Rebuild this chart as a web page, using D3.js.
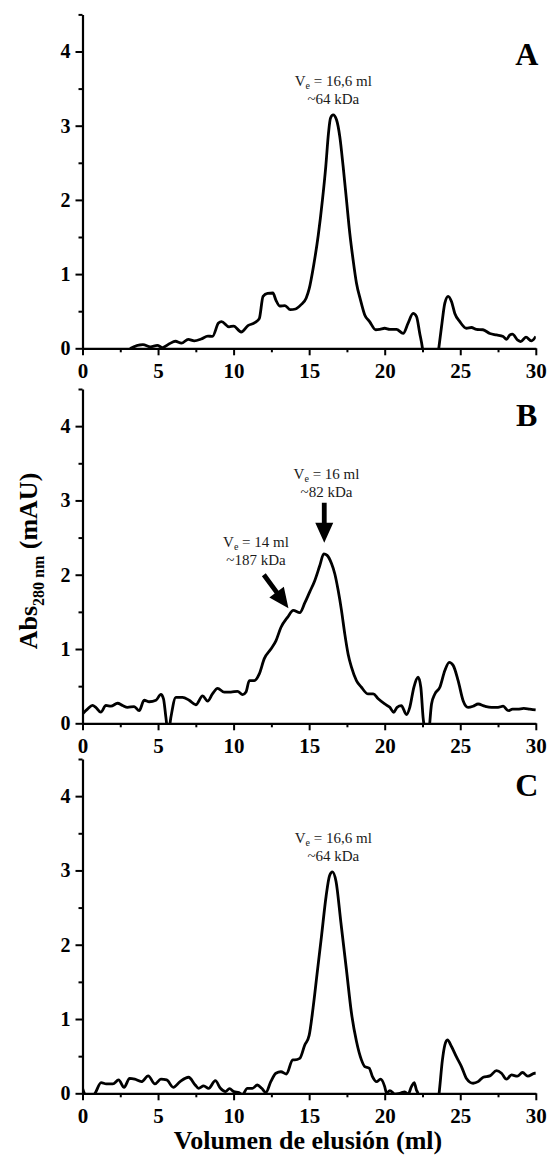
<!DOCTYPE html>
<html><head><meta charset="utf-8">
<script src="https://cdn.jsdelivr.net/npm/d3@7"></script>
<style>body{margin:0;background:#fff} svg{display:block}</style>
</head><body>
<script>
// ---------- data ----------
const xTicks = [0, 5, 10, 15, 20, 25, 30];
const xMinor = [2.5, 7.5, 12.5, 17.5, 22.5, 27.5];
const yTicks = [0, 1, 2, 3, 4];
const yMinor = [0.5, 1.5, 2.5, 3.5, 4.5];
const panelLetters = ["A", "B", "C"];
const xTitle = "Volumen de elusión (ml)";

// elution volume (ml), Abs280 (mAU)
const traceA = [[0,-0.08],[3.0,-0.05],[3.2,0.0],[4.0,0.05],[4.5,0.02],[4.95,0.04],[5.3,0.01],[5.75,0.06],[6.15,0.095],[6.55,0.07],[7.0,0.12],[7.4,0.10],[7.85,0.125],[8.3,0.165],[8.6,0.16],[9.0,0.34],[9.2,0.36],[9.7,0.29],[10.0,0.30],[10.5,0.22],[10.95,0.305],[11.4,0.345],[11.7,0.40],[11.95,0.70],[12.25,0.74],[12.6,0.745],[12.8,0.65],[13.05,0.57],[13.4,0.575],[13.75,0.52],[14.1,0.53],[14.45,0.585],[14.8,0.675],[15.0,0.80],[15.3,1.12],[15.6,1.52],[15.88,2.0],[16.1,2.45],[16.28,2.90],[16.41,3.10],[16.59,3.145],[16.81,3.08],[17.03,2.85],[17.25,2.45],[17.47,2.0],[17.69,1.55],[17.91,1.19],[18.13,0.88],[18.4,0.65],[18.68,0.45],[19.0,0.36],[19.41,0.25],[19.68,0.256],[20.0,0.27],[20.34,0.256],[20.78,0.256],[21.22,0.20],[21.55,0.34],[21.88,0.47],[22.1,0.43],[22.32,0.20],[22.5,0.0],[22.8,-0.6],[23.2,-0.6],[23.58,0.0],[23.76,0.29],[23.98,0.61],[24.2,0.70],[24.42,0.63],[24.64,0.47],[24.97,0.36],[25.41,0.27],[25.74,0.28],[26.07,0.256],[26.5,0.25],[26.96,0.20],[27.4,0.18],[27.84,0.16],[28.06,0.12],[28.28,0.18],[28.45,0.19],[28.8,0.11],[29.0,0.09],[29.35,0.15],[29.7,0.10],[30,0.16]];

const traceB = [[0,0.126],[0.33,0.19],[0.66,0.24],[0.88,0.215],[1.21,0.15],[1.55,0.24],[1.88,0.23],[2.32,0.27],[2.65,0.24],[2.98,0.215],[3.42,0.225],[3.75,0.17],[4.08,0.31],[4.42,0.29],[4.86,0.31],[5.19,0.39],[5.36,0.33],[5.52,0.08],[5.67,-0.15],[5.85,0.08],[6.18,0.35],[6.62,0.35],[7.06,0.31],[7.5,0.25],[7.95,0.37],[8.28,0.30],[8.6,0.395],[8.94,0.47],[9.38,0.42],[9.82,0.42],[10.26,0.43],[10.6,0.385],[10.82,0.42],[11.04,0.575],[11.37,0.575],[11.7,0.665],[12.03,0.87],[12.47,1.0],[12.8,1.11],[13.13,1.29],[13.58,1.43],[13.95,1.52],[14.38,1.49],[14.71,1.62],[15.04,1.77],[15.37,1.92],[15.7,2.12],[15.97,2.28],[16.19,2.26],[16.48,2.15],[16.7,2.01],[16.92,1.79],[17.14,1.52],[17.36,1.20],[17.58,0.93],[17.8,0.755],[18.13,0.575],[18.46,0.485],[18.9,0.395],[19.24,0.395],[19.57,0.33],[20.0,0.26],[20.34,0.215],[20.6,0.148],[20.82,0.215],[21.1,0.238],[21.44,0.117],[21.66,0.215],[21.93,0.485],[22.21,0.62],[22.39,0.485],[22.54,0.08],[22.65,-0.1],[22.8,-0.4],[22.94,-0.1],[23.1,0.26],[23.32,0.395],[23.65,0.485],[23.98,0.71],[24.27,0.82],[24.53,0.78],[24.86,0.575],[25.19,0.305],[25.52,0.215],[25.85,0.23],[26.18,0.26],[26.63,0.23],[27.07,0.215],[27.5,0.215],[27.84,0.23],[28.17,0.17],[28.46,0.19],[28.8,0.19],[29.2,0.2],[29.6,0.19],[30,0.18]];

const traceC = [[0,0.07],[0.12,0],[0.3,-0.05],[0.6,-0.05],[0.83,0],[1.23,0.144],[1.57,0.126],[2.01,0.126],[2.39,0.18],[2.75,0.08],[3.12,0.20],[3.46,0.19],[3.9,0.157],[4.35,0.234],[4.79,0.126],[5.19,0.19],[5.57,0.18],[6.01,0.08],[6.46,0.157],[7.02,0.216],[7.46,0.112],[7.68,0.067],[8.02,0.1],[8.35,0.067],[8.79,0.17],[9.13,0.067],[9.46,0.022],[9.73,0.063],[10.02,0.022],[10.35,0.01],[10.57,-0.02],[10.91,0.067],[11.25,0.067],[11.57,0.112],[11.86,0.067],[12.13,0.01],[12.46,0.157],[12.8,0.27],[13.13,0.29],[13.5,0.26],[13.91,0.45],[14.05,0.45],[14.38,0.47],[14.71,0.65],[15.0,0.78],[15.26,1.15],[15.52,1.6],[15.82,2.12],[16.12,2.65],[16.35,2.93],[16.54,2.98],[16.78,2.85],[17.1,2.3],[17.47,1.66],[17.8,1.08],[18.13,0.70],[18.46,0.45],[18.68,0.36],[18.97,0.34],[19.19,0.225],[19.46,0.157],[19.72,0.19],[20.0,0.09],[20.12,0],[20.34,0.036],[20.67,-0.01],[21.0,0.0],[21.33,0.02],[21.55,-0.01],[21.77,0.09],[21.95,0.144],[22.1,0.045],[22.2,0],[22.5,-0.4],[23.3,-0.4],[23.6,0],[23.82,0.45],[23.98,0.65],[24.15,0.72],[24.42,0.63],[24.75,0.49],[25.08,0.36],[25.41,0.20],[25.85,0.135],[26.18,0.157],[26.52,0.216],[26.96,0.234],[27.4,0.305],[27.73,0.27],[28.06,0.19],[28.39,0.247],[28.78,0.23],[29.12,0.28],[29.47,0.23],[29.93,0.27],[30,0.27]];

const traces = [traceA, traceB, traceC];

// annotation texts (V subscript e)
const annA = [{v:"V", sub:"e", rest:" = 16,6 ml"}, {rest:"~64 kDa"}];
const annB1 = [{v:"V", sub:"e", rest:" = 16 ml"}, {rest:"~82 kDa"}];
const annB2 = [{v:"V", sub:"e", rest:" = 14 ml"}, {rest:"~187 kDa"}];
const annC = [{v:"V", sub:"e", rest:" = 16,6 ml"}, {rest:"~64 kDa"}];

// ---------- layout ----------
const W = 548, H = 1158;
const serif = "'Liberation Serif','Times New Roman',serif";
const panels = [
  {top: 14.4, bottom: 348.3, letterY: 3.82},
  {top: 389.0, bottom: 723.3, letterY: 4.0},
  {top: 759.0, bottom: 1093.3, letterY: 4.0}
];

const svg = d3.select("body").append("svg").attr("width", W).attr("height", H)
  .style("font-family", serif);

const x = d3.scaleLinear().domain([0, 30]).range([82.5, 535.8]);

function drawAnn(g, y, cx, baseY, lines, lineGap) {
  lines.forEach((ln, i) => {
    const t = g.append("text").attr("x", x(cx)).attr("y", y(baseY) + i * lineGap)
      .attr("text-anchor", "middle").attr("font-size", 15).attr("fill", "#1a1a1a");
    if (ln.v) {
      t.append("tspan").text(ln.v);
      t.append("tspan").attr("font-size", 10).attr("dy", 3).text(ln.sub);
      t.append("tspan").attr("dy", -3).text(ln.rest);
    } else {
      t.text(ln.rest);
    }
  });
}

function arrow(g, p0, p1) {
  const dx = p1[0] - p0[0], dy = p1[1] - p0[1];
  const L = Math.hypot(dx, dy), ux = dx / L, uy = dy / L, nx = -uy, ny = ux;
  const hl = 20, hw = 9, sw = 2.4;
  const bx = p1[0] - ux * hl, by = p1[1] - uy * hl;
  const pts = [
    [p0[0] + nx * sw, p0[1] + ny * sw],
    [bx + nx * sw, by + ny * sw],
    [bx + nx * hw, by + ny * hw],
    [p1[0], p1[1]],
    [bx - nx * hw, by - ny * hw],
    [bx - nx * sw, by - ny * sw],
    [p0[0] - nx * sw, p0[1] - ny * sw]
  ];
  g.append("path").attr("d", "M" + pts.map(p => p.join(",")).join("L") + "Z").attr("fill", "#000");
}

panels.forEach((p, i) => {
  const y = d3.scaleLinear().domain([0, 4.5]).range([p.bottom, p.top]);
  const g = svg.append("g");

  // clip
  const cid = "clip" + i;
  svg.append("clipPath").attr("id", cid).append("rect")
    .attr("x", x(0)).attr("y", y(4.5)).attr("width", x(30) - x(0)).attr("height", y(0) - y(4.5));

  // line
  const line = d3.line().x(d => x(d[0])).y(d => y(d[1])).curve(d3.curveMonotoneX);
  g.append("path").datum(traces[i]).attr("d", line)
    .attr("clip-path", `url(#${cid})`)
    .attr("fill", "none").attr("stroke", "#000").attr("stroke-width", 2.8)
    .attr("stroke-linejoin", "round");

  // x axis
  const xa = g.append("g").attr("transform", `translate(0,${p.bottom})`)
    .call(d3.axisBottom(x).tickValues(xTicks).tickSize(7).tickPadding(8).tickSizeOuter(0).tickFormat(d3.format("d")));
  g.append("g").attr("transform", `translate(0,${p.bottom})`)
    .call(d3.axisBottom(x).tickValues(xMinor).tickSize(4).tickFormat(""))
    .call(s => s.select(".domain").remove());
  // y axis
  const ya = g.append("g").attr("transform", `translate(${x(0)},0)`)
    .call(d3.axisLeft(y).tickValues(yTicks).tickSize(7).tickPadding(5).tickSizeOuter(0).tickFormat(d3.format("d")));
  g.append("g").attr("transform", `translate(${x(0)},0)`)
    .call(d3.axisLeft(y).tickValues(yMinor).tickSize(4).tickFormat(""))
    .call(s => s.select(".domain").remove());

  g.selectAll(".domain").attr("stroke", "#000").attr("stroke-width", 2.2);
  g.selectAll(".tick line").attr("stroke", "#000").attr("stroke-width", 2);
  xa.selectAll("text").attr("font-family", serif).attr("font-weight", "bold").attr("font-size", 21).attr("fill", "#000");
  ya.selectAll("text").attr("font-family", serif).attr("font-weight", "bold").attr("font-size", 20).attr("fill", "#000");

  // panel letter
  g.append("text").attr("x", x(29.4)).attr("y", y(p.letterY))
    .attr("text-anchor", "middle").attr("font-weight", "bold").attr("font-size", 32)
    .text(panelLetters[i]);

  // annotations
  if (i === 0) drawAnn(g, y, 16.6, 3.53, annA, 18);
  if (i === 1) {
    drawAnn(g, y, 16.15, 3.29, annB1, 18);
    drawAnn(g, y, 11.48, 2.37, annB2, 18);
    arrow(g, [x(16.0), y(2.97)], [x(16.0), y(2.43)]);
    arrow(g, [x(12.0), y(2.0)], [x(13.63), y(1.55)]);
  }
  if (i === 2) drawAnn(g, y, 16.6, 3.37, annC, 18);
});

// axis titles
svg.append("text").attr("x", 308).attr("y", 1149).attr("text-anchor", "middle")
  .attr("font-weight", "bold").attr("font-size", 26).text(xTitle);

const yt = svg.append("text").attr("transform", "translate(37,561) rotate(-90)")
  .attr("text-anchor", "middle").attr("font-weight", "bold").attr("font-size", 26);
yt.append("tspan").text("Abs");
yt.append("tspan").attr("font-size", 16).attr("dy", 7).text("280 nm");
yt.append("tspan").attr("dy", -7).text(" (mAU)");
</script>
</body></html>
